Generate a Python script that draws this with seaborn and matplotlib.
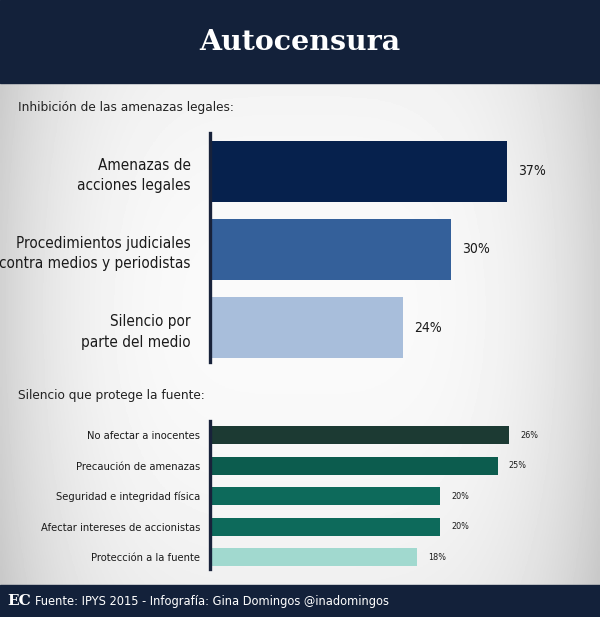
import numpy as np
import pandas as pd
import matplotlib
matplotlib.use("Agg")
import matplotlib.pyplot as plt
from matplotlib.patches import Rectangle
import seaborn as sns

# data
top_labels = ["Amenazas de\nacciones legales",
              "Procedimientos judiciales\ncontra medios y periodistas",
              "Silencio por\nparte del medio"]
top_values = [37, 30, 24]
top_colors = ["#06214d", "#34609a", "#a8bedb"]

bot_labels = ["No afectar a inocentes", "Precaución de amenazas",
              "Seguridad e integridad física", "Afectar intereses de accionistas",
              "Protección a la fuente"]
bot_values = [26, 25, 20, 20, 18]
bot_colors = ["#1c3a33", "#0c5c4e", "#0d6a5b", "#0d6a5b", "#a1d9cf"]

NAVY = "#13213a"

sns.set_style("white")
plt.rcParams["font.family"] = ["DejaVu Sans"]
plt.rcParams["font.stretch"] = "condensed"

W, H = 600, 617
fig = plt.figure(figsize=(W / 100, H / 100), dpi=100)

# background vignette
bg = fig.add_axes([0, 0, 1, 1], zorder=-10)
yy, xx = np.mgrid[-1:1:200j, -1:1:200j]
vign = np.clip(1 - 0.16 * (xx ** 4) - 0.05 * (yy ** 2), 0, 1)
bg.imshow(vign, cmap="gray", vmin=0, vmax=1.02, aspect="auto", extent=[0, 1, 0, 1])
bg.set_axis_off()

# header / footer bands
fig.add_artist(Rectangle((0, 1 - 83 / H), 1, 83 / H, transform=fig.transFigure,
                         color=NAVY, zorder=5))
fig.add_artist(Rectangle((0, 0), 1, 32 / H, transform=fig.transFigure,
                         color=NAVY, zorder=5))
fig.text(0.5, 1 - 42 / H, "Autocensura", color="white", fontsize=20.5,
         fontweight="bold", family="DejaVu Serif", fontstretch="normal",
         ha="center", va="center", zorder=6)
fig.text(7 / W, 16 / H, "EC", color="white", fontsize=11, fontweight="bold",
         family="DejaVu Serif", fontstretch="normal", ha="left", va="center", zorder=6)
fig.text(35 / W, 16 / H, "Fuente: IPYS 2015 - Infografía: Gina Domingos @inadomingos",
         color="white", fontsize=9.2, ha="left", va="center", zorder=6)

fig.text(18 / W, 1 - 107 / H, "Inhibición de las amenazas legales:",
         color="#222222", fontsize=9.7, ha="left", va="center")
fig.text(18 / W, 1 - 395 / H, "Silencio que protege la fuente:",
         color="#222222", fontsize=9.7, ha="left", va="center")


def draw(ax, labels, values, colors, width, xmax, ylim, lab_size, val_size, pad, lsp):
    df = pd.DataFrame({"label": labels, "value": values})
    sns.barplot(data=df, x="value", y="label", hue="label", palette=colors,
                legend=False, width=width, orient="h", saturation=1,
                linewidth=0, ax=ax)
    ax.set_xlim(0, xmax)
    ax.set_ylim(*ylim)
    ax.set_facecolor("none")
    ax.set_xlabel("")
    ax.set_ylabel("")
    ax.set_xticks([])
    for s in ["top", "right", "bottom"]:
        ax.spines[s].set_visible(False)
    ax.spines["left"].set_color("#18223a")
    ax.spines["left"].set_linewidth(2.4)
    ax.tick_params(axis="y", length=0, pad=pad, labelsize=lab_size, labelcolor="#1a1a1a")
    for t in ax.get_yticklabels():
        t.set_linespacing(lsp)
    for c in ax.containers:
        ax.bar_label(c, fmt="{:.0f}%", padding=8, fontsize=val_size, color="#1a1a1a")


ax1 = fig.add_axes([210 / W, 1 - 362 / H, 360 / W, 229 / H])
draw(ax1, top_labels, top_values, top_colors, 0.78, 360 / 8.03,
     (2.44, -0.49), 11, 10, 14, 1.45)

ax2 = fig.add_axes([210 / W, 1 - 569 / H, 360 / W, 148 / H])
draw(ax2, bot_labels, bot_values, bot_colors, 0.59, 360 / 11.5,
     (4.38, -0.46), 8, 6.5, 7, 1.2)

fig.savefig("out.png", dpi=100)
